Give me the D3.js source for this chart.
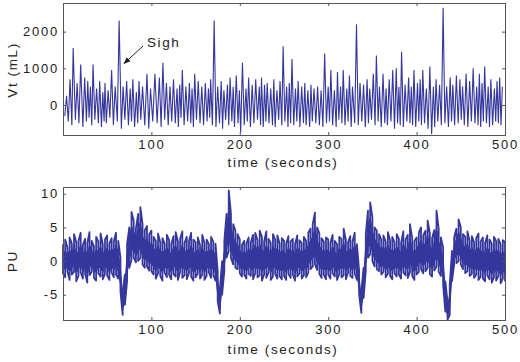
<!DOCTYPE html>
<html lang="en">
<head>
    <meta charset="UTF-8">
    <title>Vt and PU</title>
    <script src="https://d3js.org/d3.v7.min.js"></script>
    <style>
        body { margin: 0; background: #fff; }
        text { font-family: "Liberation Sans", Arial, sans-serif; fill: #222; }
        .axis text { font-size: 13px; letter-spacing: 1.8px; }
        .axis path, .axis line { stroke: #555; }
        .lbl { font-size: 13.5px; letter-spacing: 1.6px; }
    </style>
</head>
<body>
<svg id="chart"></svg>
<script>
    const width = 520, height = 362;

    // x ticks shared by both panels
    const timeTicks = [100, 200, 300, 400, 500];
    const vtTicks = [0, 1000, 2000];
    const puTicks = [-5, 0, 5, 10];

    // tidal volume: one peak and the trough just before it, per breath
    const peakTime = [4, 8, 11.5, 16, 20, 24.5, 28, 31, 34, 38, 41.5, 45, 47.5, 51, 55, 59, 63.5, 68, 72, 76,
        79, 83, 86, 90, 95, 99, 104, 109, 113, 117, 121, 125, 129, 132, 135, 139, 143, 146, 149, 153,
        157, 161, 164.5, 167, 171, 175, 179, 182, 186, 189, 192.5, 196, 199.5, 203, 207, 210, 214, 218, 222, 224.5,
        228, 231, 235, 238.5, 242, 245.5, 249, 253, 256, 259, 263, 266, 270, 273.5, 277, 280.5, 284, 288, 292, 296,
        300, 303, 307, 310.5, 314, 317, 321, 324, 327.5, 332, 336, 340, 344, 347, 351, 354.5, 358, 362, 365.5, 369,
        373, 377, 380, 383, 387, 391, 394, 397, 401, 404, 407, 411, 415, 419, 422, 426, 430, 434, 438, 441,
        445, 449, 452, 456, 460, 464, 468, 471, 474, 477, 481, 484, 488, 491, 494, 497];
    const peakVt = [250, 700, 1550, 600, 1100, 750, 650, 500, 1100, 450, 650, 350, 600, 400, 950, 500, 2300, 500, 650, 450,
        700, 350, 650, 500, 850, 450, 850, 750, 1150, 600, 500, 700, 450, 550, 950, 500, 600, 450, 850, 650,
        500, 600, 450, 700, 2300, 500, 650, 400, 550, 750, 500, 800, 400, 1150, 450, 750, 550, 700, 500, 750,
        550, 600, 450, 700, 400, 650, 1600, 500, 600, 1250, 450, 650, 500, 600, 400, 550, 450, 500, 400, 1400,
        500, 950, 400, 900, 500, 950, 450, 800, 500, 2200, 600, 550, 700, 450, 850, 1350, 500, 850, 450, 700,
        950, 1000, 500, 1450, 550, 750, 500, 950, 600, 700, 950, 450, 1050, 500, 700, 550, 2650, 500, 750, 550,
        800, 700, 500, 850, 650, 1000, 500, 850, 600, 1050, 500, 700, 450, 650, 750, 500];
    const troughTime = [2, 6, 10, 14, 18, 22.5, 26.5, 29.5, 32.5, 36, 40, 43.5, 46.5, 49, 53, 57, 61.5, 66, 70, 74,
        77.5, 81, 84.5, 88, 92.5, 97, 101.5, 106.5, 111, 115, 119, 123, 127, 130.5, 133.5, 137, 141, 144.5, 147.5, 151,
        155, 159, 163, 166, 169, 173, 177, 180.5, 184, 187.5, 191, 194, 198, 201, 205, 208.5, 212, 216, 220, 223.5,
        226.5, 229.5, 233, 237, 240, 244, 247.5, 251, 254.5, 257.5, 261, 264.5, 268, 272, 275, 279, 282, 286, 290, 294,
        298, 301.5, 305, 309, 312, 315.5, 319, 322.5, 326, 330, 334, 338, 342, 345.5, 349, 353, 356.5, 360, 364, 367,
        371, 375, 378.5, 381.5, 385, 389, 392.5, 395.5, 399, 402.5, 405.5, 409, 413, 417, 420.5, 424, 428, 432, 436, 439.5,
        443, 447, 450.5, 454, 458, 462, 466, 469.5, 472.5, 475.5, 479, 482.5, 486, 489.5, 492.5, 495.5];
    const troughVt = [-300, -450, -550, -400, -500, -600, -450, -350, -550, -400, -500, -600, -450, -500, -350, -550, -450, -650, -400, -550,
        -450, -600, -500, -400, -550, -650, -450, -500, -600, -400, -550, -450, -500, -600, -350, -550, -450, -500, -600, -400,
        -500, -550, -450, -350, -550, -600, -500, -650, -400, -550, -450, -600, -500, -750, -550, -450, -600, -500, -400, -550,
        -600, -450, -500, -550, -600, -400, -550, -450, -600, -500, -550, -450, -600, -500, -550, -600, -450, -500, -550, -600,
        -500, -450, -550, -600, -400, -500, -550, -450, -600, -500, -550, -450, -600, -500, -400, -550, -450, -600, -500, -550,
        -450, -650, -500, -550, -600, -450, -500, -550, -600, -450, -550, -500, -650, -800, -600, -450, -550, -500, -600, -450,
        -550, -500, -400, -550, -600, -450, -500, -550, -600, -450, -500, -600, -550, -450, -500, -550];

    // PU: upper and lower edge of the noisy trace, one value every puStep seconds
    const puStep = 2.5;
    const puUpper = [
        2.5, 3.2, 2.0, 3.5, 2.6, 4.0, 2.8, 3.0, 4.2, 2.4, 3.3, 2.7, 4.3, 3.0, 2.2, 3.6, 2.9, 4.1, 2.5, 3.2,
        3.8, 2.6, 3.4, 2.9, 4.2, 3.0, 0.5, -4.5, -2.0, 2.5, 5.0, 7.3, 6.0, 4.8, 7.0, 8.0, 5.5, 4.6, 5.2, 4.0,
        4.5, 3.6, 3.0, 4.1, 2.8, 3.4, 2.6, 3.9, 3.1, 2.5, 3.7, 4.3, 2.9, 3.3, 4.4, 2.7, 3.6, 3.0, 4.2, 3.2,
        2.8, 3.5, 2.4, 3.9, 2.7, 3.2, 2.5, 3.6, 2.9, 2.6, -1.5, -4.0, 0.0, 3.0, 7.0, 10.5, 7.0, 5.5, 4.5, 4.0,
        3.2, 2.4, 3.0, 2.6, 3.5, 2.8, 3.9, 4.2, 3.1, 4.5, 3.6, 2.9, 4.4, 3.3, 2.7, 4.0, 3.2, 3.8, 2.6, 3.4,
        3.0, 2.6, 3.7, 2.9, 3.3, 2.5, 3.8, 3.1, 2.7, 3.6, 3.0, 4.2, 4.8, 5.5, 7.2, 5.0, 4.1, 3.4, 2.9, 3.5,
        3.2, 2.7, 3.9, 3.0, 2.5, 3.6, 3.3, 4.8, 3.1, 2.8, 3.7, 2.9, 4.2, 2.5, -1.5, -4.5, -1.0, 4.0, 7.5, 8.7,
        6.5, 5.0, 4.5, 4.0, 3.2, 3.8, 2.9, 4.3, 3.1, 3.6, 2.8, 4.0, 3.3, 2.7, 4.4, 3.2, 3.9, 5.5, 3.4, 3.0,
        3.5, 4.2, 5.0, 3.8, 4.5, 6.0, 4.1, 3.4, 4.6, 7.5, 4.8, 3.5, 2.0, -3.0, -6.0, -3.5, 1.5, 3.5, 4.8, 6.2,
        5.0, 4.0, 3.6, 4.4, 3.0, 3.7, 2.8, 3.4, 4.1, 2.9, 3.5, 2.7, 3.8, 3.2, 2.6, 3.6, 3.0, 3.3, 2.5, 3.1,
        2.8];
    const puLower = [
        -1.8, -2.4, -1.5, -2.8, -2.0, -1.6, -3.0, -2.2, -1.7, -2.6, -1.9, -3.2, -2.1, -1.6, -2.5, -2.9, -1.8, -2.3, -2.7, -1.9,
        -2.2, -2.8, -1.7, -2.4, -2.0, -2.6, -4.5, -8.0, -6.5, -3.0, -1.0, 0.2, 0.5, -0.2, 0.0, 0.5, -0.5, -1.0, -0.8, -1.4,
        -1.5, -2.0, -2.6, -1.8, -2.2, -2.9, -1.7, -2.4, -2.0, -2.7, -1.9, -2.3, -2.8, -1.6, -2.5, -2.1, -2.7, -1.8, -2.3, -2.9,
        -2.4, -1.9, -2.6, -2.0, -2.8, -2.2, -1.7, -2.5, -2.1, -2.9, -6.0, -7.8, -5.0, -1.5, 0.5, 1.5, 0.5, -0.5, -1.0, -1.2,
        -1.8, -2.3, -2.0, -2.6, -1.9, -2.2, -2.7, -1.8, -2.4, -2.1, -2.9, -2.0, -2.5, -1.7, -2.8, -2.3, -1.9, -2.6, -2.2, -2.7,
        -2.2, -2.8, -1.9, -2.5, -2.0, -2.9, -2.3, -1.8, -2.6, -2.1, -2.4, -1.7, -1.2, -0.8, -0.5, -1.3, -1.9, -2.5, -2.0, -2.7,
        -2.0, -2.6, -1.8, -2.3, -2.8, -1.9, -2.4, -2.1, -2.7, -1.7, -2.2, -2.5, -1.8, -2.8, -5.0, -7.7, -5.5, -1.5, 0.5, 1.0,
        0.0, -0.8, -1.2, -1.5, -2.0, -1.6, -2.4, -1.9, -2.2, -2.7, -1.8, -2.3, -2.0, -2.6, -1.7, -2.1, -2.5, -1.6, -2.2, -2.8,
        -2.0, -1.6, -1.2, -1.8, -1.5, -1.0, -1.9, -2.3, -1.4, -0.8, -1.6, -2.2, -3.5, -7.5, -8.7, -8.0, -3.0, -0.5, -0.3, 0.0,
        -0.5, -1.2, -1.8, -1.5, -2.2, -1.9, -2.5, -2.0, -2.8, -2.3, -2.6, -3.0, -2.1, -2.7, -3.2, -2.4, -2.9, -2.2, -3.3, -2.6,
        -3.0];

    const lineColor = "#35379c";

    const svg = d3.select("#chart").attr("width", width).attr("height", height);

    const x = d3.scaleLinear().domain([0, 500]).range([63, 505]);
    const yVt = d3.scaleLinear().domain([-818, 2780]).range([135, 3]);
    const yPu = d3.scaleLinear().domain([-8.75, 11]).range([320, 187]);

    function frame(y, ticks) {
        const [y0, y1] = y.range();
        const g = svg.append("g");
        g.append("g").attr("class", "axis").attr("transform", `translate(0,${y0})`)
            .call(d3.axisBottom(x).tickValues(timeTicks).tickSize(-3).tickPadding(5).tickFormat(d => String(d)));
        g.append("g").attr("class", "axis").attr("transform", `translate(0,${y1})`)
            .call(d3.axisTop(x).tickValues(timeTicks).tickSize(-3).tickFormat(""));
        g.append("g").attr("class", "axis").attr("transform", `translate(${x.range()[0]},0)`)
            .call(d3.axisLeft(y).tickValues(ticks).tickSize(-3).tickPadding(4).tickFormat(d => String(d)));
        g.append("g").attr("class", "axis").attr("transform", `translate(${x.range()[1]},0)`)
            .call(d3.axisRight(y).tickValues(ticks).tickSize(-3).tickFormat(""));
        g.selectAll(".axis .domain").attr("stroke", "#666");
        return g;
    }

    // top panel: Vt
    const vtPoints = [];
    d3.zip(troughTime, troughVt, peakTime, peakVt).forEach(d => {
        vtPoints.push([d[0], d[1]]);
        vtPoints.push([d[2], d[3]]);
    });
    svg.append("path")
        .datum(vtPoints)
        .attr("fill", "none")
        .attr("stroke", lineColor)
        .attr("stroke-width", 1.1)
        .attr("d", d3.line().x(d => x(d[0])).y(d => yVt(d[1])));
    frame(yVt, vtTicks);

    // bottom panel: PU, drawn as a zigzag between the two edges at each sample
    const puPoints = [];
    d3.zip(puUpper, puLower).forEach((d, i) => {
        const t = i * puStep;
        if (i % 2 === 0) { puPoints.push([t, d[0]], [t, d[1]]); }
        else { puPoints.push([t, d[1]], [t, d[0]]); }
    });
    // dense core of the trace
    svg.append("path")
        .datum(d3.zip(puUpper, puLower).map((d, i) => [i * puStep, d[0], d[1]]))
        .attr("fill", lineColor)
        .attr("stroke", lineColor)
        .attr("stroke-width", 1)
        .attr("d", d3.area().x(d => x(d[0]))
            .y0(d => yPu(d[2] + (d[1] - d[2]) * 0.2))
            .y1(d => yPu(d[1] - (d[1] - d[2]) * 0.3)));
    svg.append("path")
        .datum(puPoints)
        .attr("fill", "none")
        .attr("stroke", lineColor)
        .attr("stroke-width", 1.8)
        .attr("stroke-linejoin", "round")
        .attr("d", d3.line().x(d => x(d[0])).y(d => yPu(d[1])));
    frame(yPu, puTicks);

    // labels
    svg.append("text").attr("class", "lbl").attr("x", 283).attr("y", 167)
        .attr("text-anchor", "middle").text("time (seconds)");
    svg.append("text").attr("class", "lbl").attr("x", 283).attr("y", 354)
        .attr("text-anchor", "middle").text("time (seconds)");
    svg.append("text").attr("class", "lbl").attr("transform", "translate(17,70) rotate(-90)")
        .attr("text-anchor", "middle").text("Vt (mL)");
    svg.append("text").attr("class", "lbl").attr("transform", "translate(17,261) rotate(-90)")
        .attr("text-anchor", "middle").text("PU");

    // sigh annotation
    svg.append("defs").append("marker")
        .attr("id", "arrow").attr("viewBox", "0 0 10 10").attr("refX", 9).attr("refY", 5)
        .attr("markerWidth", 7).attr("markerHeight", 7).attr("orient", "auto")
        .append("path").attr("d", "M0,1L10,5L0,9Z").attr("fill", "#222");
    svg.append("line")
        .attr("x1", 143).attr("y1", 46).attr("x2", x(69)).attr("y2", yVt(1130))
        .attr("stroke", "#222").attr("stroke-width", 1).attr("marker-end", "url(#arrow)");
    svg.append("text").attr("class", "lbl").attr("x", 147).attr("y", 47).text("Sigh");
</script>
</body>
</html>
